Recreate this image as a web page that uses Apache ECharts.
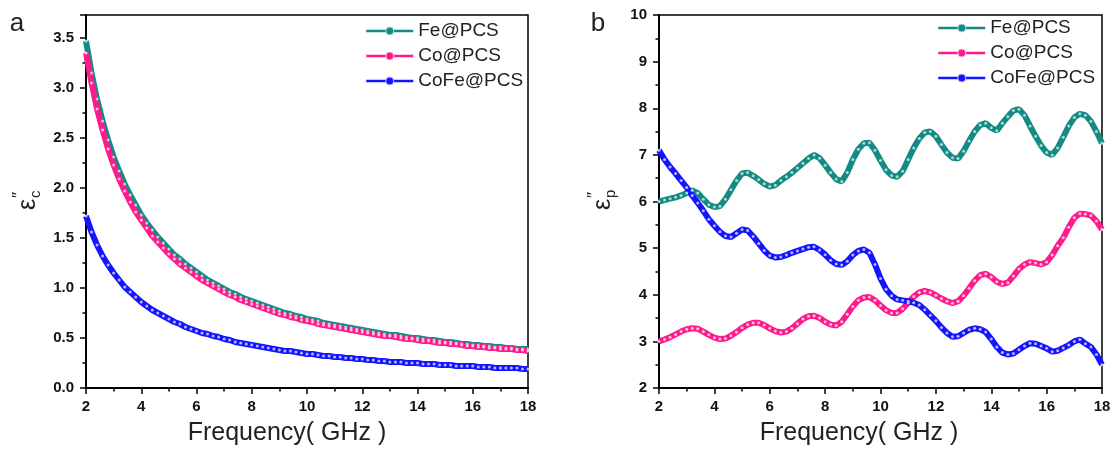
<!DOCTYPE html>
<html>
<head>
<meta charset="utf-8">
<script src="https://cdn.jsdelivr.net/npm/echarts@6/dist/echarts.min.js"></script>
<style>
  html, body { margin: 0; padding: 0; background: #fff; }
  #chart { width: 1117px; height: 453px; }
</style>
</head>
<body>
<div id="chart"></div>
<script>
const FONT = '"Liberation Sans", Arial, sans-serif';

// frequency grid, 2-18 GHz every 0.2 GHz
const freq = Array.from({ length: 81 }, (_, i) => +(2 + i * 0.2).toFixed(1));

const seriesNames = ["Fe@PCS", "Co@PCS", "CoFe@PCS"];
const seriesColors = ["#158a83", "#ff1a8c", "#1414ff"];
const fillColors = ["#a8dcd6", "#ffbfdd", "#b8b8ff"];

// panel a : eps_c''
const feC = [3.47, 3.15, 2.89, 2.67, 2.48, 2.31, 2.17, 2.04, 1.93, 1.83,
  1.73, 1.65, 1.58, 1.51, 1.45, 1.39, 1.33, 1.29, 1.24, 1.20,
  1.16, 1.12, 1.08, 1.05, 1.02, 0.99, 0.96, 0.94, 0.91, 0.89,
  0.87, 0.85, 0.83, 0.81, 0.79, 0.77, 0.75, 0.74, 0.72, 0.71,
  0.69, 0.68, 0.67, 0.65, 0.64, 0.63, 0.62, 0.61, 0.60, 0.59,
  0.58, 0.57, 0.56, 0.55, 0.54, 0.53, 0.53, 0.52, 0.51, 0.50,
  0.50, 0.49, 0.48, 0.48, 0.47, 0.46, 0.46, 0.45, 0.44, 0.44,
  0.43, 0.43, 0.42, 0.42, 0.41, 0.41, 0.40, 0.40, 0.39, 0.39, 0.39];
const coC = [3.35, 3.05, 2.79, 2.58, 2.39, 2.23, 2.09, 1.97, 1.86, 1.76,
  1.68, 1.60, 1.52, 1.46, 1.40, 1.34, 1.29, 1.24, 1.20, 1.16,
  1.12, 1.08, 1.05, 1.02, 0.99, 0.96, 0.93, 0.91, 0.88, 0.86,
  0.84, 0.82, 0.80, 0.78, 0.76, 0.74, 0.73, 0.71, 0.70, 0.68,
  0.67, 0.66, 0.64, 0.63, 0.62, 0.61, 0.60, 0.59, 0.58, 0.57,
  0.56, 0.55, 0.54, 0.53, 0.52, 0.52, 0.51, 0.50, 0.49, 0.49,
  0.48, 0.47, 0.47, 0.46, 0.45, 0.45, 0.44, 0.44, 0.43, 0.42,
  0.42, 0.41, 0.41, 0.40, 0.40, 0.39, 0.39, 0.39, 0.38, 0.38, 0.37];
const cofeC = [1.72, 1.56, 1.43, 1.32, 1.23, 1.15, 1.08, 1.01, 0.96, 0.91,
  0.86, 0.82, 0.78, 0.75, 0.72, 0.69, 0.66, 0.64, 0.61, 0.59,
  0.57, 0.55, 0.54, 0.52, 0.51, 0.49, 0.48, 0.46, 0.45, 0.44,
  0.43, 0.42, 0.41, 0.40, 0.39, 0.38, 0.37, 0.37, 0.36, 0.35,
  0.34, 0.34, 0.33, 0.32, 0.32, 0.31, 0.31, 0.30, 0.30, 0.29,
  0.29, 0.28, 0.28, 0.27, 0.27, 0.26, 0.26, 0.26, 0.25, 0.25,
  0.25, 0.24, 0.24, 0.24, 0.23, 0.23, 0.23, 0.22, 0.22, 0.22,
  0.22, 0.21, 0.21, 0.21, 0.20, 0.20, 0.20, 0.20, 0.20, 0.19, 0.19];

// panel b : eps_p''
const feP = [6.00, 6.03, 6.06, 6.09, 6.13, 6.18, 6.24, 6.18, 6.05, 5.93,
  5.88, 5.90, 6.05, 6.25, 6.45, 6.60, 6.62, 6.55, 6.47, 6.38,
  6.32, 6.35, 6.45, 6.53, 6.62, 6.72, 6.82, 6.92, 7.00, 6.93,
  6.78, 6.62, 6.48, 6.43, 6.62, 6.90, 7.12, 7.25, 7.26, 7.10,
  6.88, 6.68, 6.56, 6.53, 6.65, 6.90, 7.15, 7.35, 7.48, 7.50,
  7.40, 7.22, 7.05, 6.94, 6.92, 7.08, 7.30, 7.50, 7.64, 7.68,
  7.58, 7.52, 7.68, 7.82, 7.95, 7.98, 7.85, 7.62, 7.40, 7.20,
  7.05, 7.00, 7.15, 7.38, 7.62, 7.80, 7.88, 7.85, 7.72, 7.50, 7.25];
const coP = [3.00, 3.04, 3.09, 3.15, 3.21, 3.26, 3.28, 3.27, 3.21, 3.14,
  3.08, 3.05, 3.06, 3.12, 3.20, 3.29, 3.36, 3.40, 3.40, 3.35,
  3.28, 3.22, 3.19, 3.21, 3.28, 3.38, 3.48, 3.54, 3.55, 3.50,
  3.42, 3.36, 3.34, 3.42, 3.58, 3.75, 3.88, 3.94, 3.95, 3.88,
  3.77, 3.67, 3.61, 3.61, 3.70, 3.83, 3.96, 4.05, 4.08, 4.05,
  3.99, 3.92, 3.86, 3.82, 3.86, 3.98, 4.14, 4.30, 4.42, 4.45,
  4.38, 4.28, 4.23, 4.26, 4.40, 4.55, 4.65, 4.70, 4.68, 4.65,
  4.70, 4.85, 5.05, 5.22, 5.45, 5.65, 5.74, 5.73, 5.70, 5.58, 5.40];
const cofeP = [7.10, 6.90, 6.74, 6.60, 6.45, 6.30, 6.13, 5.97, 5.80, 5.62,
  5.48, 5.35, 5.26, 5.24, 5.32, 5.40, 5.38, 5.25, 5.10, 4.95,
  4.84, 4.80, 4.81, 4.85, 4.90, 4.94, 4.98, 5.02, 5.03, 4.96,
  4.86, 4.74, 4.66, 4.64, 4.72, 4.85, 4.94, 4.97, 4.90, 4.65,
  4.35, 4.12, 3.98, 3.90, 3.88, 3.86, 3.83, 3.78, 3.68, 3.56,
  3.44, 3.30, 3.18, 3.10, 3.11, 3.18, 3.25, 3.28, 3.26, 3.20,
  3.05, 2.88, 2.76, 2.72, 2.74, 2.82, 2.90, 2.96, 2.95, 2.90,
  2.85, 2.78, 2.80, 2.86, 2.92, 3.00, 3.04, 2.95, 2.88, 2.72, 2.50];

const chart = echarts.init(document.getElementById("chart"), null, { renderer: "canvas" });

const tickLabel = { color: "#111", fontFamily: FONT, fontSize: 15, fontWeight: "bold" };

function xAxisFor(gridIndex) {
  return {
    type: "value", gridIndex, min: 2, max: 18, interval: 2,
    axisLine: { lineStyle: { color: "#000", width: 2 } },
    axisTick: { length: 6, lineStyle: { color: "#000", width: 1.5 } },
    minorTick: { show: true, splitNumber: 2, length: 3.5, lineStyle: { color: "#000", width: 1.5 } },
    axisLabel: { ...tickLabel, margin: 11 },
    splitLine: { show: false }
  };
}

function yAxisFor(gridIndex, min, max, interval, fmt) {
  return {
    type: "value", gridIndex, min, max, interval,
    axisLine: { show: true, lineStyle: { color: "#000", width: 2 } },
    axisTick: { show: true, length: 6, lineStyle: { color: "#000", width: 1.5 } },
    minorTick: { show: true, splitNumber: 2, length: 3.5, lineStyle: { color: "#000", width: 1.5 } },
    axisLabel: { ...tickLabel, margin: 12, formatter: fmt, showMaxLabel: max === 10 },
    splitLine: { show: false }
  };
}

// thick coloured band with light dots, like the dense ring markers of the original
function makeSeries(idx, gridIndex, values) {
  return {
    name: seriesNames[idx],
    type: "line",
    xAxisIndex: gridIndex,
    yAxisIndex: gridIndex,
    data: freq.map((f, i) => [f, values[i]]),
    symbol: "circle",
    symbolSize: 3,
    showAllSymbol: true,
    lineStyle: { color: seriesColors[idx], width: 6 },
    itemStyle: { color: fillColors[idx], borderWidth: 0 },
    emphasis: { disabled: true }
  };
}

function legendAt(left, top) {
  return {
    orient: "vertical", left, top, padding: 0,
    itemWidth: 47, itemHeight: 10, itemGap: 5,
    selectedMode: false,
    textStyle: { fontFamily: FONT, fontSize: 19, color: "#222", lineHeight: 20 },
    data: seriesNames.map((name, i) => ({
      name,
      lineStyle: { color: seriesColors[i], width: 2.5 },
      itemStyle: { color: seriesColors[i], borderColor: fillColors[i], borderWidth: 1 }
    }))
  };
}

function yName(x, y, sub) {
  return {
    type: "group", x, y, rotation: Math.PI / 2,
    children: [
      { type: "text", x: 0, y: 0, style: { text: "ε", fontFamily: FONT, fontSize: 25, fill: "#222", align: "left", verticalAlign: "middle" } },
      { type: "text", x: 12, y: 8, style: { text: sub, fontFamily: FONT, fontSize: 15, fill: "#222", align: "left", verticalAlign: "middle" } },
      { type: "text", x: 12, y: -9, style: { text: "″", fontFamily: FONT, fontSize: 17, fill: "#222", align: "left", verticalAlign: "middle" } }
    ]
  };
}

function plainText(x, y, text, size) {
  return { type: "text", x, y, style: { text, fontFamily: FONT, fontSize: size, fill: "#222", align: "center", verticalAlign: "middle" } };
}

const option = {
  animation: false,
  backgroundColor: "#fff",
  grid: [
    { left: 86, right: 589, top: 15, bottom: 65, show: true, borderColor: "#000", borderWidth: 1.5 },
    { left: 659, right: 15, top: 15, bottom: 65, show: true, borderColor: "#000", borderWidth: 1.5 }
  ],
  xAxis: [xAxisFor(0), xAxisFor(1)],
  yAxis: [
    yAxisFor(0, 0, 3.73, 0.5, v => v.toFixed(1)),
    yAxisFor(1, 2, 10, 1, v => String(v))
  ],
  legend: [legendAt(365, 21), legendAt(937, 18)],
  series: [
    makeSeries(0, 0, feC),
    makeSeries(1, 0, coC),
    makeSeries(2, 0, cofeC),
    makeSeries(0, 1, feP),
    makeSeries(1, 1, coP),
    makeSeries(2, 1, cofeP)
  ],
  graphic: [
    plainText(17, 24, "a", 26),
    plainText(598, 24, "b", 26),
    plainText(287, 433, "Frequency( GHz )", 25),
    plainText(859, 433, "Frequency( GHz )", 25),
    yName(28, 210, "c"),
    yName(603, 210, "p")
  ]
};

chart.setOption(option);
</script>
</body>
</html>
